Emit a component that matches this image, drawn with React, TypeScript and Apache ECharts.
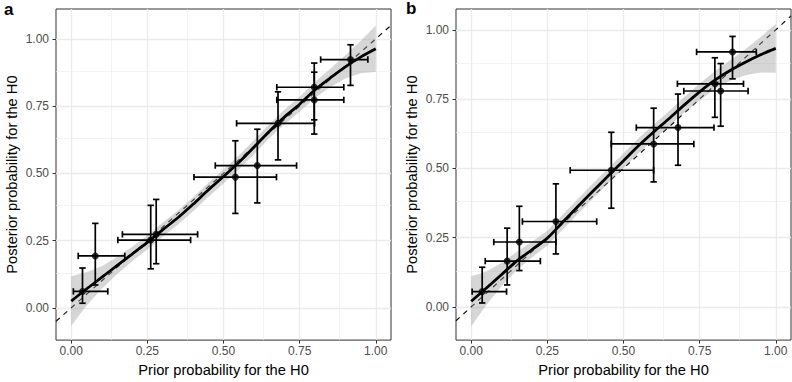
import React, { useEffect, useRef } from 'react';
import * as echarts from 'echarts';

// ---------- data ----------
const TICKS = [0, 0.25, 0.5, 0.75, 1];
const MINOR = [0.125, 0.375, 0.625, 0.875];

const FIT_X = [0, 0.05, 0.1, 0.15, 0.2, 0.25, 0.3, 0.35, 0.4, 0.45, 0.5, 0.55, 0.6, 0.65, 0.7, 0.75, 0.8, 0.85, 0.9, 0.95, 1.0];

// Panel a
const A_FIT = [0.025, 0.070, 0.113, 0.157, 0.200, 0.243, 0.290, 0.335, 0.385, 0.438, 0.488, 0.540, 0.597, 0.656, 0.709, 0.757, 0.810, 0.854, 0.896, 0.932, 0.963];
const A_HI = [0.117, 0.132, 0.155, 0.189, 0.227, 0.269, 0.316, 0.361, 0.411, 0.464, 0.514, 0.566, 0.623, 0.682, 0.736, 0.785, 0.840, 0.888, 0.939, 0.992, 1.049];
const A_LO = [-0.067, 0.008, 0.071, 0.125, 0.173, 0.217, 0.264, 0.309, 0.359, 0.412, 0.462, 0.514, 0.571, 0.630, 0.682, 0.729, 0.780, 0.820, 0.853, 0.872, 0.877];
const A_PRIOR = [0.037, 0.079, 0.261, 0.279, 0.539, 0.611, 0.679, 0.798, 0.798, 0.917];
const A_POST = [0.061, 0.193, 0.252, 0.273, 0.486, 0.529, 0.686, 0.820, 0.773, 0.923];
const A_PRIOR_LO = [0.007, 0.023, 0.153, 0.168, 0.403, 0.473, 0.543, 0.675, 0.675, 0.819];
const A_PRIOR_HI = [0.120, 0.176, 0.392, 0.415, 0.674, 0.740, 0.799, 0.895, 0.895, 0.974];
const A_POST_LO = [0.017, 0.085, 0.145, 0.164, 0.351, 0.390, 0.550, 0.699, 0.646, 0.827];
const A_POST_HI = [0.148, 0.314, 0.381, 0.403, 0.621, 0.664, 0.803, 0.910, 0.876, 0.978];

// Panel b
const B_FIT = [0.020, 0.068, 0.117, 0.166, 0.207, 0.248, 0.305, 0.362, 0.418, 0.473, 0.527, 0.582, 0.632, 0.680, 0.729, 0.776, 0.818, 0.853, 0.883, 0.910, 0.933];
const B_HI = [0.110, 0.128, 0.159, 0.199, 0.235, 0.275, 0.332, 0.389, 0.445, 0.500, 0.554, 0.609, 0.659, 0.707, 0.757, 0.806, 0.850, 0.890, 0.930, 0.974, 1.021];
const B_LO = [-0.070, 0.008, 0.075, 0.133, 0.179, 0.221, 0.278, 0.335, 0.391, 0.446, 0.500, 0.555, 0.605, 0.653, 0.701, 0.746, 0.786, 0.816, 0.836, 0.846, 0.845];
const B_PRIOR = [0.036, 0.118, 0.158, 0.278, 0.460, 0.599, 0.679, 0.800, 0.819, 0.858];
const B_POST = [0.055, 0.165, 0.234, 0.308, 0.493, 0.588, 0.647, 0.805, 0.779, 0.920];
const B_PRIOR_LO = [0.003, 0.046, 0.074, 0.168, 0.325, 0.460, 0.542, 0.677, 0.698, 0.740];
const B_PRIOR_HI = [0.116, 0.227, 0.278, 0.412, 0.599, 0.731, 0.797, 0.894, 0.909, 0.936];
const B_POST_LO = [0.014, 0.079, 0.131, 0.191, 0.356, 0.451, 0.511, 0.684, 0.652, 0.823];
const B_POST_HI = [0.143, 0.284, 0.363, 0.444, 0.630, 0.717, 0.768, 0.899, 0.878, 0.976];

const X_TITLE = 'Prior probability for the H0';
const Y_TITLE = 'Posterior probability for the H0';
const FONT = "'Liberation Sans', Arial, Helvetica, sans-serif";

type Panel = {
  fit: number[]; lo: number[]; hi: number[];
  prior: number[]; post: number[];
  priorLo: number[]; priorHi: number[]; postLo: number[]; postHi: number[];
  yMax: number;
  left: number; right: number;
};

const panels: Panel[] = [
  { fit: A_FIT, lo: A_LO, hi: A_HI, prior: A_PRIOR, post: A_POST, priorLo: A_PRIOR_LO, priorHi: A_PRIOR_HI, postLo: A_POST_LO, postHi: A_POST_HI, yMax: 1.111, left: 56, right: 401 },
  { fit: B_FIT, lo: B_LO, hi: B_HI, prior: B_PRIOR, post: B_POST, priorLo: B_PRIOR_LO, priorHi: B_PRIOR_HI, postLo: B_POST_LO, postHi: B_POST_HI, yMax: 1.075, left: 456, right: 1 },
];

function buildOption() {
  const grid: any[] = [];
  const xAxis: any[] = [];
  const yAxis: any[] = [];
  const series: any[] = [];

  panels.forEach((p, k) => {
    grid.push({
      left: p.left, right: p.right, top: 9, bottom: 39,
      show: true, borderColor: '#333333', borderWidth: 1, backgroundColor: 'transparent',
    });
    xAxis.push({
      type: 'value', gridIndex: k, min: -0.05, max: 1.05,
      splitLine: { show: false },
      axisLine: { show: false, onZero: false },
      axisTick: { show: true, customValues: TICKS, length: 3.5, lineStyle: { color: '#333333', width: 1 } },
      axisLabel: { customValues: TICKS, formatter: (v: number) => v.toFixed(2), color: '#4D4D4D', fontSize: 12, fontFamily: FONT, margin: 5 },
      name: X_TITLE, nameLocation: 'middle', nameGap: 21,
      nameTextStyle: { color: '#000', fontSize: 14.7, fontFamily: FONT },
    });
    yAxis.push({
      type: 'value', gridIndex: k, min: -0.12, max: p.yMax,
      splitLine: { show: false },
      axisLine: { show: false, onZero: false },
      axisTick: { show: true, customValues: TICKS, length: 3.5, lineStyle: { color: '#333333', width: 1 } },
      axisLabel: { customValues: TICKS, formatter: (v: number) => v.toFixed(2), color: '#4D4D4D', fontSize: 12, fontFamily: FONT, margin: 7 },
      name: Y_TITLE, nameLocation: 'middle', nameGap: 37, nameRotate: 90,
      nameTextStyle: { color: '#000', fontSize: 14.7, fontFamily: FONT },
    });

    // grid lines
    const gl: any[] = [];
    MINOR.forEach((v) => {
      gl.push({ xAxis: v, lineStyle: { color: '#EEEEEE', width: 0.7, type: 'solid' } });
      gl.push({ yAxis: v, lineStyle: { color: '#EEEEEE', width: 0.7, type: 'solid' } });
    });
    TICKS.forEach((v) => {
      gl.push({ xAxis: v, lineStyle: { color: '#EBEBEB', width: 1.3, type: 'solid' } });
      gl.push({ yAxis: v, lineStyle: { color: '#EBEBEB', width: 1.3, type: 'solid' } });
    });
    series.push({
      type: 'line', xAxisIndex: k, yAxisIndex: k, z: 1,
      data: [[0.5, 0.5]], showSymbol: false, symbol: 'none', lineStyle: { opacity: 0 },
      silent: true,
      markLine: { silent: true, z: 1, symbol: ['none', 'none'], label: { show: false }, animation: false, data: gl },
    });

    // identity dashed line
    series.push({
      type: 'line', xAxisIndex: k, yAxisIndex: k, z: 10,
      data: [[-0.05, -0.05], [1.05, 1.05]], symbol: 'none', silent: true,
      lineStyle: { color: '#111', width: 1.2, type: [5, 5] },
    });

    // ribbon
    const ribbonData = FIT_X.map((x, i) => [x, p.lo[i], p.hi[i]]);
    series.push({
      type: 'custom', xAxisIndex: k, yAxisIndex: k, z: 11, silent: true,
      data: ribbonData,
      encode: { x: 0, y: [1, 2] },
      renderItem: (params: any, api: any) => {
        if (params.dataIndex !== 0) return { type: 'group', children: [] };
        const pts: number[][] = [];
        for (let i = 0; i < FIT_X.length; i++) pts.push(api.coord([FIT_X[i], p.hi[i]]));
        for (let i = FIT_X.length - 1; i >= 0; i--) pts.push(api.coord([FIT_X[i], p.lo[i]]));
        return { type: 'polygon', shape: { points: pts }, style: { fill: 'rgba(153,153,153,0.4)', stroke: 'none' } };
      },
    });

    // smooth fit
    series.push({
      type: 'line', xAxisIndex: k, yAxisIndex: k, z: 12, silent: true,
      data: FIT_X.map((x, i) => [x, p.fit[i]]),
      symbol: 'none', smooth: 0.3,
      lineStyle: { color: '#000', width: 2.8 },
    });

    // error bars
    const errData = p.prior.map((x, i) => [x, p.post[i], p.priorLo[i], p.priorHi[i], p.postLo[i], p.postHi[i]]);
    series.push({
      type: 'custom', xAxisIndex: k, yAxisIndex: k, z: 13, silent: true,
      data: errData,
      encode: { x: 0, y: 1 },
      renderItem: (params: any, api: any) => {
        const x = api.value(0), y = api.value(1);
        const pL = api.coord([api.value(2), y]);
        const pR = api.coord([api.value(3), y]);
        const pB = api.coord([x, api.value(4)]);
        const pT = api.coord([x, api.value(5)]);
        const c = 3.2;
        const style = { stroke: '#000', lineWidth: 1.7, fill: 'none' };
        const ln = (x1: number, y1: number, x2: number, y2: number) => ({ type: 'line', shape: { x1, y1, x2, y2 }, style });
        return {
          type: 'group',
          children: [
            ln(pL[0], pL[1], pR[0], pR[1]),
            ln(pL[0], pL[1] - c, pL[0], pL[1] + c),
            ln(pR[0], pR[1] - c, pR[0], pR[1] + c),
            ln(pB[0], pB[1], pT[0], pT[1]),
            ln(pB[0] - c, pB[1], pB[0] + c, pB[1]),
            ln(pT[0] - c, pT[1], pT[0] + c, pT[1]),
          ],
        };
      },
    });

    // points
    series.push({
      type: 'scatter', xAxisIndex: k, yAxisIndex: k, z: 14, silent: true,
      data: p.prior.map((x, i) => [x, p.post[i]]),
      symbol: 'circle', symbolSize: 7,
      itemStyle: { color: '#000' },
    });
  });

  return {
    animation: false,
    backgroundColor: '#ffffff',
    grid, xAxis, yAxis, series,
    graphic: [
      { type: 'text', left: 4, top: 1, style: { text: 'a', font: `bold 17px ${FONT}`, fill: '#000' } },
      { type: 'text', left: 406, top: 0, style: { text: 'b', font: `bold 17px ${FONT}`, fill: '#000' } },
    ],
  };
}

export default function App() {
  const ref = useRef<HTMLDivElement>(null);
  useEffect(() => {
    if (!ref.current) return;
    const chart = echarts.init(ref.current, undefined, { renderer: 'svg' });
    chart.setOption(buildOption() as any);
    return () => chart.dispose();
  }, []);
  return (
    <div
      ref={ref}
      style={{ position: 'fixed', left: 0, top: 0, width: 792, height: 382, background: '#fff' }}
    />
  );
}
